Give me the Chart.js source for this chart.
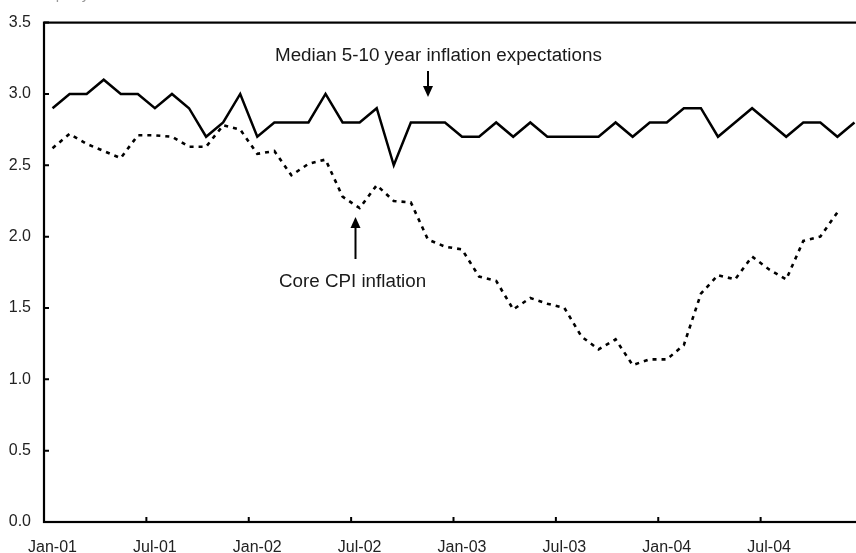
<!DOCTYPE html>
<html>
<head>
<meta charset="utf-8">
<script src="https://cdn.jsdelivr.net/npm/chart.js@4/dist/chart.umd.min.js"></script>
<style>
    html, body { margin: 0; padding: 0; background: #fff; overflow: hidden; }
    #wrap { width: 856px; height: 553px; overflow: hidden; }
</style>
</head>
<body>
<div id="wrap"><canvas id="chart" width="866" height="553"></canvas></div>
<script>
// Monthly labels, Jan-01 .. Dec-04
const months = ['Jan', 'Feb', 'Mar', 'Apr', 'May', 'Jun', 'Jul', 'Aug', 'Sep', 'Oct', 'Nov', 'Dec'];
const years = ['01', '02', '03', '04'];
const categories = [];
years.forEach(y => months.forEach(m => categories.push(m + '-' + y)));

// Median 5-10 year inflation expectations (percent)
const expectations = [
    2.9, 3.0, 3.0, 3.1, 3.0, 3.0, 2.9, 3.0, 2.9, 2.7, 2.8, 3.0,
    2.7, 2.8, 2.8, 2.8, 3.0, 2.8, 2.8, 2.9, 2.5, 2.8, 2.8, 2.8,
    2.7, 2.7, 2.8, 2.7, 2.8, 2.7, 2.7, 2.7, 2.7, 2.8, 2.7, 2.8,
    2.8, 2.9, 2.9, 2.7, 2.8, 2.9, 2.8, 2.7, 2.8, 2.8, 2.7, 2.8
];

// Core CPI inflation (percent, 12-month)
const coreCpi = [
    2.62, 2.72, 2.65, 2.60, 2.55, 2.71, 2.71, 2.70, 2.63, 2.63, 2.78, 2.75,
    2.58, 2.60, 2.43, 2.51, 2.54, 2.28, 2.20, 2.36, 2.25, 2.24, 1.98, 1.93,
    1.91, 1.72, 1.69, 1.49, 1.57, 1.53, 1.50, 1.30, 1.21, 1.28, 1.10, 1.14,
    1.14, 1.24, 1.60, 1.73, 1.70, 1.86, 1.77, 1.70, 1.97, 2.00, 2.17, null
];

const yTicks = [0, 0.5, 1.0, 1.5, 2.0, 2.5, 3.0, 3.5];
const tickEvery = 6;
const fontFamily = 'Arial, "Liberation Sans", sans-serif';

// frame, inward tick marks and annotations
const decorations = {
    id: 'decorations',
    afterDraw(chart) {
        const ctx = chart.ctx;
        const area = chart.chartArea;
        const x = chart.scales.x;
        const y = chart.scales.y;
        const half = (x.getPixelForValue(1) - x.getPixelForValue(0)) / 2;

        ctx.save();
        ctx.strokeStyle = '#000';
        ctx.lineWidth = 2.2;
        ctx.strokeRect(area.left, area.top, area.right - area.left, area.bottom - area.top);

        ctx.lineWidth = 2;
        ctx.beginPath();
        yTicks.forEach(v => {
            const py = y.getPixelForValue(v);
            ctx.moveTo(area.left, py);
            ctx.lineTo(area.left + 5, py);
        });
        for (let i = tickEvery; i < categories.length; i += tickEvery) {
            const px = x.getPixelForValue(i) - half;
            ctx.moveTo(px, area.bottom);
            ctx.lineTo(px, area.bottom - 5);
        }
        ctx.stroke();

        // axis unit (cut off at top in the original)
        ctx.fillStyle = '#999';
        ctx.font = '15px ' + fontFamily;
        ctx.textAlign = 'left';
        ctx.textBaseline = 'alphabetic';
        ctx.fillText('Percent per year', 0, -1);

        // annotations
        ctx.fillStyle = '#1a1a1a';
        ctx.font = '18.8px ' + fontFamily;
        ctx.textBaseline = 'middle';
        ctx.fillText('Median 5-10 year inflation expectations', 275, 56);
        ctx.fillText('Core CPI inflation', 279, 282);

        drawArrow(ctx, 428, 71, 428, 97);
        drawArrow(ctx, 355.5, 259, 355.5, 217);
        ctx.restore();
    }
};

function drawArrow(ctx, x1, y1, x2, y2) {
    const dir = y2 > y1 ? 1 : -1;
    ctx.strokeStyle = '#000';
    ctx.fillStyle = '#000';
    ctx.lineWidth = 2;
    ctx.beginPath();
    ctx.moveTo(x1, y1);
    ctx.lineTo(x2, y2 - dir * 8);
    ctx.stroke();
    ctx.beginPath();
    ctx.moveTo(x2, y2);
    ctx.lineTo(x2 - 5, y2 - dir * 11);
    ctx.lineTo(x2 + 5, y2 - dir * 11);
    ctx.closePath();
    ctx.fill();
}

const ctx = document.getElementById('chart').getContext('2d');
new Chart(ctx, {
    type: 'line',
    data: {
        labels: categories,
        datasets: [{
            label: 'Median 5-10 year inflation expectations',
            data: expectations,
            borderColor: '#000',
            borderWidth: 2.5,
            pointRadius: 0,
            tension: 0,
            fill: false
        }, {
            label: 'Core CPI inflation',
            data: coreCpi,
            borderColor: '#000',
            borderWidth: 2.6,
            borderDash: [4, 5],
            pointRadius: 0,
            tension: 0,
            fill: false,
            spanGaps: false
        }]
    },
    options: {
        responsive: false,
        animation: false,
        layout: { padding: { top: 18, right: 3, left: 0, bottom: 0 } },
        plugins: {
            legend: { display: false },
            tooltip: { enabled: false }
        },
        scales: {
            x: {
                type: 'category',
                offset: true,
                grid: { display: true, offset: true, drawOnChartArea: false, drawTicks: false },
                border: { display: false },
                ticks: {
                    autoSkip: false,
                    maxRotation: 0,
                    padding: 16,
                    color: '#222',
                    font: { family: fontFamily, size: 16 },
                    callback: function(value, index) {
                        return index % tickEvery === 0 ? categories[index] : null;
                    }
                },
                afterFit: scale => { scale.height = 31; }
            },
            y: {
                min: 0,
                max: 3.5,
                grid: { display: false, drawTicks: false },
                border: { display: false },
                ticks: {
                    stepSize: 0.5,
                    padding: 13,
                    color: '#222',
                    font: { family: fontFamily, size: 16 },
                    callback: v => v.toFixed(1)
                },
                afterFit: scale => { scale.width = 44; }
            }
        }
    },
    plugins: [decorations]
});
</script>
</body>
</html>
